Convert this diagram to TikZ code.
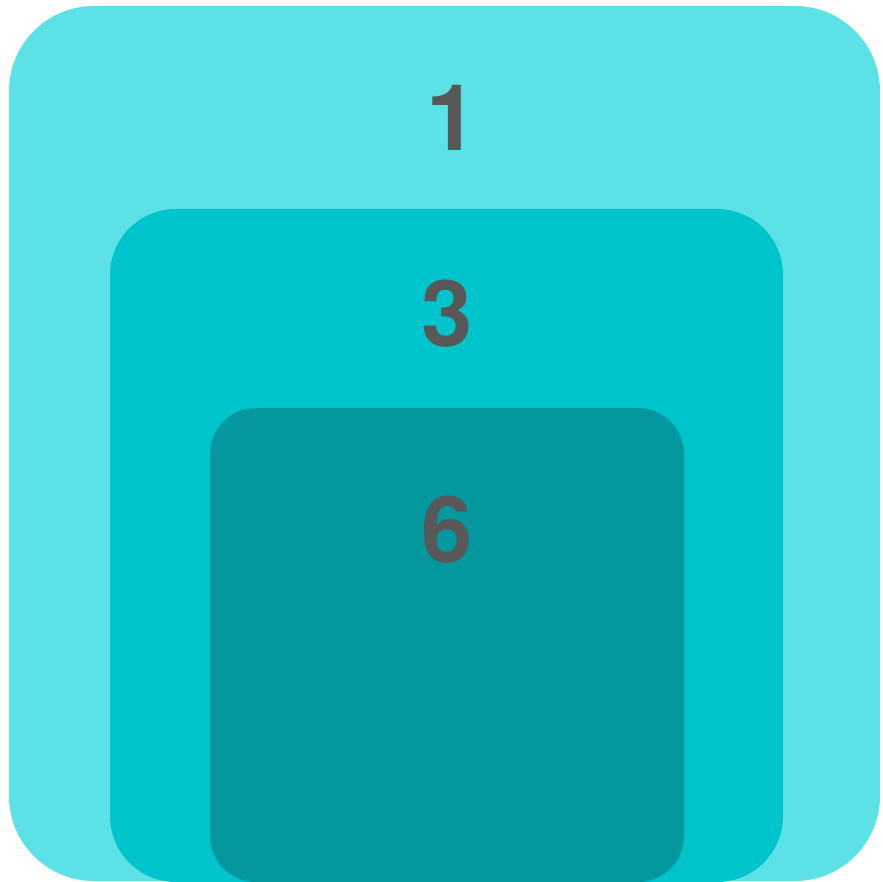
\documentclass[tikz,border=0pt]{standalone}
\usepackage{fontspec}
\setmainfont{TeX Gyre Heros}
\usetikzlibrary{positioning}
\definecolor{outercyan}{HTML}{5CE1E6}
\definecolor{midcyan}{HTML}{00C4CC}
\definecolor{darkcyan}{HTML}{03989E}
\definecolor{digitgray}{HTML}{585858}
\tikzstyle{level} = [rectangle, draw=none, inner sep=0pt, anchor=center]
\tikzstyle{digit} = [inner sep=0pt, text=digitgray, font=\fontsize{92}{92}\selectfont\bfseries]

\begin{document}
\begin{tikzpicture}[x=1pt, y=-1pt]
\useasboundingbox (0,0) rectangle (882,882);

% nested boxes
\node (outer) [level, fill=outercyan, rounded corners=85pt, minimum width=871pt, minimum height=875pt] at (444.5,443.5) {};
\node (middle) [level, fill=midcyan, rounded corners=66pt, minimum width=673pt, minimum height=673pt] at (446.5,545.5) {};
\node (inner) [level, fill=darkcyan, rounded corners=46pt, minimum width=474pt, minimum height=474pt] at (447,645) {};

% numbers
\node (one) [digit] at (452,118) {1};
\node (three) [digit] at (447,314) {3};
\node (six) [digit] at (447,530) {6};

\end{tikzpicture}
\end{document}
